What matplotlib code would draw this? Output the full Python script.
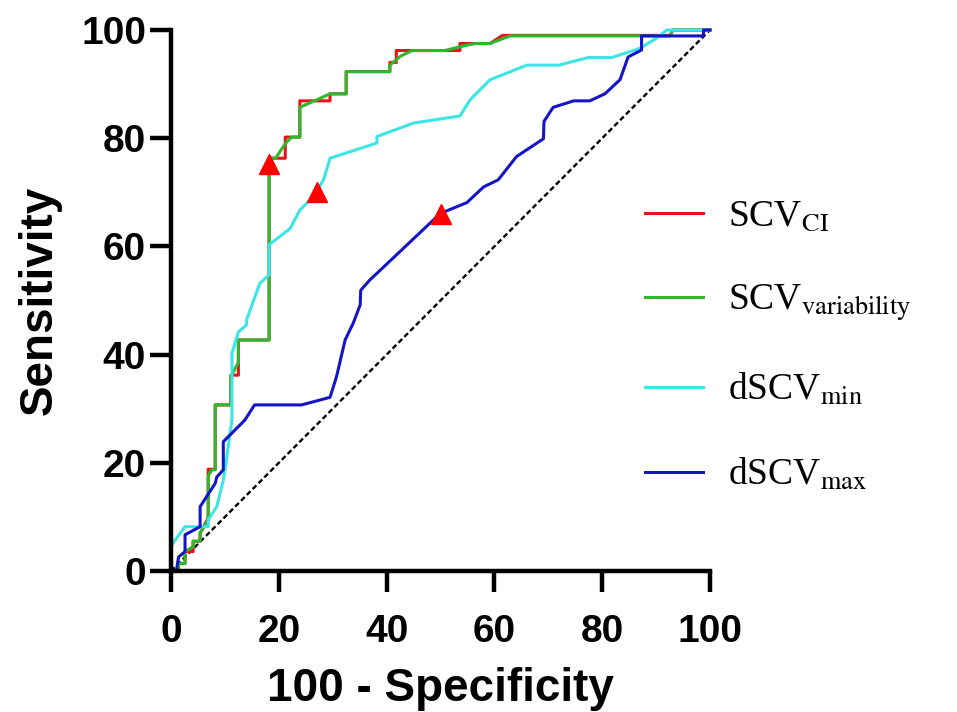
import numpy as np
import matplotlib
matplotlib.use("Agg")
import matplotlib.pyplot as plt

# ROC curves (x = 100 - specificity, y = sensitivity)
ci_x = [0, 1.4, 1.4, 2.6, 2.6, 4.1, 4.1, 5.4, 5.4, 6.9, 6.9, 8.2, 8.2, 11.1, 11.1, 12.5, 12.5,
        18.2, 18.2, 21.2, 21.2, 23.9, 23.9, 29.5, 29.5, 32.5, 32.5, 40.6, 40.6, 41.8, 41.8,
        53.6, 53.6, 59.2, 61.5, 92.6, 93.1, 100]
ci_y = [0, 0, 1.4, 1.4, 3.6, 3.6, 5.5, 5.5, 7.0, 9.8, 18.8, 18.8, 30.7, 30.7, 36.2, 36.2, 42.7,
        42.7, 76.3, 76.3, 80.2, 80.2, 86.9, 86.9, 88.2, 88.2, 92.3, 92.3, 94.0, 94.0, 96.2,
        96.2, 97.5, 97.5, 99.0, 99.0, 100, 100]

var_x = [0, 1.4, 1.4, 2.6, 2.6, 4.1, 4.1, 5.4, 5.4, 6.9, 6.9, 7.6, 8.2, 8.2, 11.1, 11.1, 12.5,
         12.5, 18.2, 18.2, 19.4, 21.2, 22.4, 23.9, 23.9, 29.5, 32.5, 32.5, 40.6, 40.6, 42.5,
         44.7, 50.8, 53.6, 56.4, 59.2, 62.9, 92.6, 93.1, 100]
var_y = [0, 0, 1.4, 1.4, 3.6, 4.5, 5.5, 5.5, 7.0, 9.4, 17.6, 18.7, 18.7, 30.7, 30.7, 36.0, 38.5,
         42.7, 42.7, 76.3, 76.3, 79.0, 80.2, 80.2, 85.7, 88.2, 88.2, 92.3, 92.3, 93.5, 95.1,
         96.2, 96.2, 96.9, 97.5, 97.5, 98.9, 98.9, 100, 100]

min_x = [0, 0, 0.6, 2.6, 6.9, 6.9, 8.5, 9.1, 9.7, 10.2, 11.3, 11.3, 12.5, 14.0, 14.0, 16.5, 18.2,
         18.2, 22.1, 23.9, 26.4, 28.3, 29.5, 38.2, 38.2, 45.0, 53.6, 55.5, 59.2, 66.0, 71.9,
         77.4, 81.8, 87.0, 90.1, 92.0, 100]
min_y = [0, 4.5, 5.5, 8.2, 8.2, 9.5, 11.9, 14.4, 16.8, 20.0, 27.9, 40.2, 44.2, 45.5, 46.4, 53.2,
         54.7, 60.3, 63.3, 66.7, 69.2, 72.3, 76.3, 79.1, 80.3, 82.8, 84.1, 87.1, 90.8, 93.5,
         93.5, 94.9, 94.9, 96.6, 98.5, 100, 100]

max_x = [0, 1.0, 1.4, 2.6, 2.6, 5.4, 5.4, 8.2, 8.5, 9.7, 9.7, 13.7, 15.5, 24.2, 29.5, 30.7, 32.3,
         33.8, 35.1, 35.2, 36.9, 48.7, 50.0, 54.9, 58.0, 60.7, 64.1, 69.1, 69.2, 70.9, 74.7,
         77.7, 80.5, 83.3, 84.8, 87.3, 87.3, 98.8, 98.8, 100]
max_y = [0, 0, 2.6, 3.6, 6.7, 8.2, 11.9, 16.2, 17.4, 18.7, 23.9, 27.9, 30.7, 30.7, 32.1, 35.9,
         42.7, 45.8, 49.2, 51.9, 53.8, 64.9, 66.1, 68.1, 71.0, 72.3, 76.6, 79.9, 83.1, 85.7,
         86.9, 86.9, 88.2, 90.8, 95.0, 96.3, 98.9, 98.9, 100, 100]

# cut-off points (red triangles)
cut_x = [18.2, 27.0, 50.0]
cut_y = [75.3, 70.1, 66.0]

labels = [r"SCV$_{\mathrm{CI}}$", r"SCV$_{\mathrm{variability}}$",
          r"dSCV$_{\mathrm{min}}$", r"dSCV$_{\mathrm{max}}$"]
colors = ["#e8141a", "#2db82d", "#3ce6e6", "#1515c8"]

plt.rcParams["font.family"] = ["Liberation Sans", "DejaVu Sans"]
plt.rcParams["mathtext.fontset"] = "stix"

fig = plt.figure(figsize=(9.57, 7.12), dpi=100)
ax = fig.add_axes([0.1787, 0.198, 0.5632, 0.7599])

ax.plot([0, 100], [0, 100], color="black", lw=1.7, ls=(0, (2.2, 1.3)), zorder=1)

series = [(ci_x, ci_y), (var_x, var_y), (min_x, min_y), (max_x, max_y)]
handles = []
for (xs, ys), c, lab in zip(series, colors, labels):
    h, = ax.plot(xs, ys, color=c, lw=2.2, label=lab, clip_on=False, zorder=2)
    handles.append(h)

ax.plot(cut_x, cut_y, ls="none", marker="^", ms=14, color="#ff0000", clip_on=False, zorder=5)

ax.set_xlim(0, 100)
ax.set_ylim(0, 100)
ax.set_xticks(np.arange(0, 101, 20))
ax.set_yticks(np.arange(0, 101, 20))
for s in ["top", "right"]:
    ax.spines[s].set_visible(False)
for s in ["left", "bottom"]:
    ax.spines[s].set_linewidth(3.2)
ax.tick_params(axis="both", length=15, width=3.2, labelsize=28)
ax.tick_params(axis="x", pad=16)
ax.tick_params(axis="y", pad=3)
for t in ax.get_xticklabels() + ax.get_yticklabels():
    t.set_fontweight("bold")

ax.set_xlabel("100 - Specificity", fontsize=33, fontweight="bold", labelpad=12)
ax.set_ylabel("Sensitivity", fontsize=33, fontweight="bold", labelpad=14)

ax.legend(handles=handles, loc="center left", bbox_to_anchor=(0.674, 0.514),
          bbox_transform=fig.transFigure, frameon=False, borderpad=0, borderaxespad=0,
          handlelength=1.55, handletextpad=0.65, labelspacing=1.3,
          prop={"family": "Liberation Serif", "size": 27})

fig.savefig("out.png", dpi=100)
